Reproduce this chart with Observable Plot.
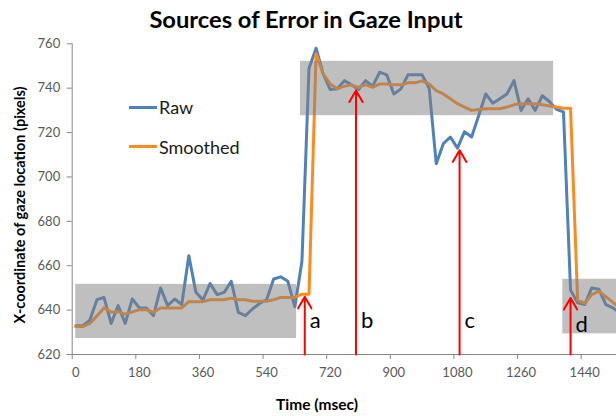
<!DOCTYPE html>
<html><head><meta charset="utf-8">
<script src="https://cdn.jsdelivr.net/npm/d3@7"></script>
<script src="https://cdn.jsdelivr.net/npm/@observablehq/plot@0.6"></script>
<style>
body{margin:0;background:#fff;}
#wrap{position:relative;width:616px;height:416px;font-family:Lato,sans-serif;}
.leg{position:absolute;left:129px;height:20px;display:flex;align-items:center;font-size:18px;color:#1a1a1a;white-space:nowrap;}
.leg .sw{display:inline-block;width:28px;height:3.5px;margin-right:2px;}
</style></head><body><div id="wrap"></div>
<script>
const time = [0,20,40,60,80,100,120,140,160,180,200,220,240,260,280,300,320,340,360,380,400,420,440,460,480,500,520,540,560,580,600,620,640,660,680,700,720,740,760,780,800,820,840,860,880,900,920,940,960,980,1000,1020,1040,1060,1080,1100,1120,1140,1160,1180,1200,1220,1240,1260,1280,1300,1320,1340,1360,1380,1400,1420,1440,1460,1480,1500,1520,1540];
const raw = [633,633,635.5,644.7,645.7,634,642,634,645,641,641,637.5,650,642,645,642.5,664.5,648,644.5,652,647,648,653,639,637.5,640.5,643,644.7,654,655,653,641.5,662,749,758,746.5,739.4,739.7,743.4,741.5,739.4,743.4,740.9,747.2,746,737.4,739.7,746,746,746,740,706,715,718,713,720.4,718,727.6,737.4,733.2,735.2,737.4,743.4,730,735.2,730,736.6,734,730.5,729.3,649,643.3,642.5,650,649.4,642.5,641,638.8];
const smoothed = [632.6,632.6,634,637.4,641,639.2,639.2,638.2,639.2,640.2,640.2,639,641,641,641,641,643.8,643.8,643.8,644.7,644.7,644.7,645.4,644.7,644.7,644,644,644,644.7,645.7,645.7,645.7,647.2,647.2,755.5,746.5,741.9,739.7,740.9,741.5,740.4,741.5,740.4,741.9,741.9,741.5,741.5,742.4,742.4,743.3,741.9,738.9,737.4,735.2,733,731.5,730,730.4,730.7,730.7,730.7,731.5,732.5,733,733,733,732.5,732,731.5,731,731,644.5,643,647,648.5,646,643.5,641];
const seriesNames = ["Raw", "Smoothed"];
const seriesColors = ["#4f81bd", "#ff8a1c"];
const xTickLabels = [0,180,360,540,720,900,1080,1260,1440];
const yTickLabels = [620,640,660,680,700,720,740,760];
const boxStart = [0, 636, 1378];
const boxEnd = [625, 1352, 1700];
const boxLow = [627.2, 727.6, 629.3];
const boxHigh = [651.6, 752.1, 653.9];
const arrowTime = [648, 793, 1086, 1400];
const arrowTip = [646, 739, 712, 645.5];
const arrowLabels = ["a", "b", "c", "d"];
const labelLevel = [635, 635, 635, 633.5];
const titleText = "Sources of Error in Gaze Input";
const xTitle = "Time (msec)";
const yTitle = "X-coordinate of gaze location (pixels)";

const halfStep = (time[1] - time[0]) / 2;
const rows = time.map((t, i) => ({t, raw: raw[i], smoothed: smoothed[i]}));
const boxes = boxStart.map((s, i) => ({s, e: boxEnd[i], lo: boxLow[i], hi: boxHigh[i]}));
const arrows = arrowTime.map((t, i) => ({t, tip: arrowTip[i], label: arrowLabels[i], ly: labelLevel[i]}));
const xTickMarks = xTickLabels.map(t => t - halfStep);
const yMin = yTickLabels[0], yMax = yTickLabels[yTickLabels.length - 1];

const chart = Plot.plot({
  width: 616, height: 416,
  marginLeft: 71.7, marginRight: 0, marginTop: 43.3, marginBottom: 62,
  x: {domain: [-halfStep, 1530]},
  y: {domain: [yMin, yMax]},
  style: {fontFamily: "Lato, sans-serif", background: "white", overflow: "hidden"},
  marks: [
    Plot.line(rows, {x: "t", y: "raw", stroke: seriesColors[0], strokeWidth: 3, strokeLinejoin: "round", clip: true}),
    Plot.line(rows, {x: "t", y: "smoothed", stroke: seriesColors[1], strokeWidth: 3, strokeLinejoin: "round", clip: true}),
    Plot.rect(boxes, {x1: "s", x2: "e", y1: "lo", y2: "hi", fill: "#808080", fillOpacity: 0.5, clip: true}),
    Plot.ruleX([-halfStep], {stroke: "#868686"}),
    Plot.ruleY([yMin], {stroke: "#868686"}),
    Plot.axisY({ticks: yTickLabels, tickSize: 5, tickPadding: 7, fontSize: 13, tickFormat: d => String(d), stroke: "#868686", fill: "#595959", label: null}),
    Plot.axisX({ticks: xTickLabels, tickSize: 0, tickPadding: 13, fontSize: 13, tickFormat: d => String(d), fill: "#595959", label: null}),
    Plot.axisX({ticks: xTickMarks, tickSize: 5, tickFormat: () => "", stroke: "#868686", label: null}),
    Plot.arrow(arrows, {x1: "t", x2: "t", y1: () => yMin, y2: "tip", stroke: "#ff0000", strokeWidth: 2, headLength: 10, headAngle: 60}),
    Plot.text(arrows, {x: "t", y: "ly", text: "label", dx: 5, textAnchor: "start", lineAnchor: "middle", fontSize: 22, fill: "#000"})
  ]
});
const svg = d3.select(chart);
svg.append("text").attr("x", 306).attr("y", 27.5).attr("text-anchor", "middle")
  .attr("font-size", 23.7).attr("font-weight", "bold").attr("fill", "#000").text(titleText);
svg.append("text").attr("x", 317).attr("y", 410).attr("text-anchor", "middle")
  .attr("font-size", 15.5).attr("font-weight", "bold").attr("fill", "#000").text(xTitle);
svg.append("text").attr("transform", "translate(25,205) rotate(-90)").attr("text-anchor", "middle")
  .attr("font-size", 14.5).attr("font-weight", "bold").attr("fill", "#000").text(yTitle);
const wrap = document.getElementById("wrap");
wrap.appendChild(chart);
const legendTops = [97.3, 136.7];
seriesNames.forEach((name, i) => {
  const row = document.createElement("div");
  row.className = "leg";
  row.style.top = legendTops[i] + "px";
  const sw = document.createElement("span");
  sw.className = "sw";
  sw.style.background = seriesColors[i];
  row.appendChild(sw);
  row.appendChild(document.createTextNode(name));
  wrap.appendChild(row);
});
</script></body></html>
